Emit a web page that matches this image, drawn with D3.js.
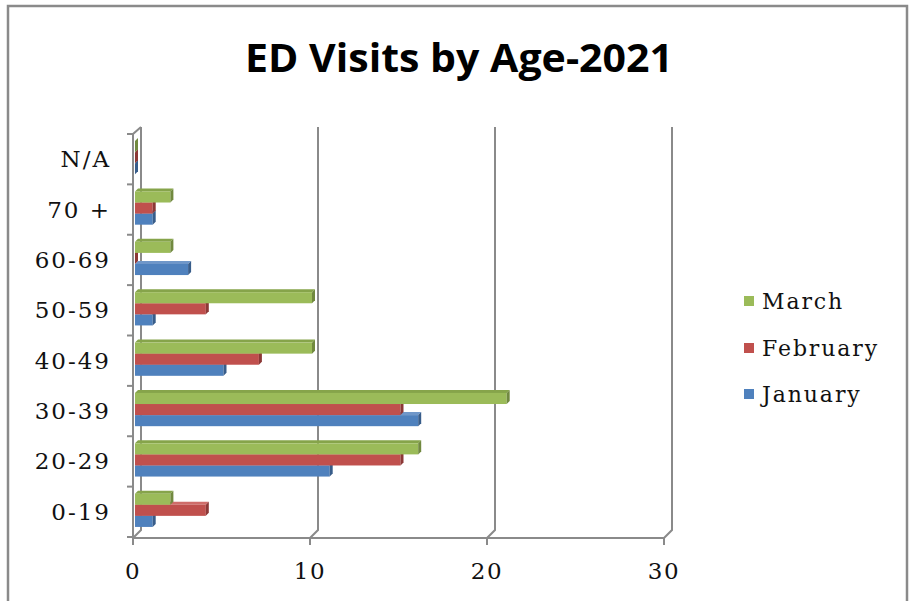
<!DOCTYPE html>
<html>
<head>
<meta charset="utf-8">
<script src="https://cdn.jsdelivr.net/npm/d3@7"></script>
<style>
  body { margin: 0; background: #fff; }
  svg { display: block; }
</style>
</head>
<body>
<svg id="chart" width="913" height="601"></svg>
<script>
// ED visits by age group, Jan-Mar 2021 (bottom to top as drawn)
var categories = ['0-19', '20-29', '30-39', '40-49', '50-59', '60-69', '70 +', 'N/A'];
var january  = [1, 11, 16, 5, 1, 3, 1, 0];
var february = [4, 15, 15, 7, 4, 0, 1, 0];
var march    = [2, 16, 21, 10, 10, 2, 2, 0];
var xTicks = [0, 10, 20, 30];

var series = [
  { name: 'January',  values: january,  fill: '#4f81bd', side: '#385d8a', top: '#6f97c9' },
  { name: 'February', values: february, fill: '#c0504d', side: '#8c3836', top: '#cf6d6a' },
  { name: 'March',    values: march,    fill: '#9bbb59', side: '#71893f', top: '#86a44a' }
];

var svg = d3.select('#chart');
var lineColor = '#8a8a8a';

// outer frame
svg.append('rect')
  .attr('x', 8).attr('y', 6)
  .attr('width', 899).attr('height', 620)
  .attr('fill', 'none')
  .attr('stroke', lineColor)
  .attr('stroke-width', 2.5);

// title
svg.append('text')
  .attr('x', 459).attr('y', 72)
  .attr('text-anchor', 'middle')
  .attr('font-family', 'Open Sans, Noto Sans, sans-serif')
  .attr('font-weight', 'bold')
  .attr('font-size', 40)
  .attr('textLength', 428)
  .attr('lengthAdjust', 'spacingAndGlyphs')
  .text('ED Visits by Age-2021');

// scales
var x = d3.scaleLinear().domain([0, 30]).range([133, 664]);
var y = d3.scaleBand().domain(categories.slice().reverse()).range([134, 537]);
var wall = { dx: 8, dy: -8 };       // back wall offset
var depth = { dx: 3, dy: -3 };      // bar depth
var yBottom = 538;
var yTop = 135;

var grid = svg.append('g')
  .attr('fill', 'none')
  .attr('stroke', lineColor)
  .attr('stroke-width', 2);

// back wall gridlines with floor diagonals
xTicks.forEach(function(v) {
  var xb = x(v) + wall.dx;
  grid.append('path')
    .attr('d', 'M' + xb + ',' + (yTop + wall.dy) +
               'V' + (yBottom + wall.dy) +
               'L' + x(v) + ',' + yBottom);
});

// left front axis + top diagonal
grid.append('path')
  .attr('d', 'M' + x(0) + ',' + yBottom + 'V' + (yTop - 1) +
             'L' + (x(0) + wall.dx) + ',' + (yTop + wall.dy));

// bottom axis line
grid.append('line')
  .attr('x1', x(0)).attr('x2', x(30))
  .attr('y1', yBottom).attr('y2', yBottom);

// bottom ticks
xTicks.forEach(function(v) {
  grid.append('line')
    .attr('x1', x(v)).attr('x2', x(v))
    .attr('y1', yBottom).attr('y2', yBottom + 7);
});

// left ticks at band edges
var edges = y.domain().map(function(c) { return y(c); }).concat([y.range()[1]]);
edges.forEach(function(e) {
  grid.append('line')
    .attr('x1', x(0) - 6).attr('x2', x(0))
    .attr('y1', e).attr('y2', e);
});

// x tick labels
svg.append('g')
  .selectAll('text')
  .data(xTicks)
  .enter().append('text')
  .attr('x', function(d) { return x(d); })
  .attr('y', 579)
  .attr('text-anchor', 'middle')
  .attr('font-family', 'DejaVu Serif, serif')
  .attr('font-size', 23)
  .attr('letter-spacing', 1.5)
  .attr('fill', '#111')
  .text(function(d) { return d; });

// category labels
svg.append('g')
  .selectAll('text')
  .data(categories)
  .enter().append('text')
  .attr('x', 111)
  .attr('y', function(d) { return y(d) + y.bandwidth() / 2 + 8; })
  .attr('text-anchor', 'end')
  .attr('font-family', 'DejaVu Serif, serif')
  .attr('font-size', 23)
  .attr('letter-spacing', 2)
  .attr('fill', '#111')
  .text(function(d) { return d; });

// bars: inner band, March on top, January at bottom
var inner = d3.scaleBand()
  .domain(['March', 'February', 'January'])
  .range([0.16, 0.82]);

var barX = function(v) { return x(v) + 2; };
var bars = svg.append('g');

// draw bottom bar first so upper bars hide its top face
series.forEach(function(s) {
  categories.forEach(function(cat, i) {
    var v = s.values[i];
    var bw = y.bandwidth();
    var y0 = y(cat) + inner(s.name) * bw - 1;
    var h = inner.bandwidth() * bw;
    var x0 = barX(0), x1 = barX(v);
    var g = bars.append('g');
    // top face
    g.append('path')
      .attr('d', 'M' + x0 + ',' + y0 +
                 'L' + (x0 + depth.dx) + ',' + (y0 + depth.dy) +
                 'L' + (x1 + depth.dx) + ',' + (y0 + depth.dy) +
                 'L' + x1 + ',' + y0 + 'Z')
      .attr('fill', s.top);
    // front face
    g.append('rect')
      .attr('x', x0).attr('y', y0)
      .attr('width', x1 - x0).attr('height', h)
      .attr('fill', s.fill);
    // end face
    g.append('path')
      .attr('d', 'M' + x1 + ',' + y0 +
                 'L' + (x1 + depth.dx) + ',' + (y0 + depth.dy) +
                 'L' + (x1 + depth.dx) + ',' + (y0 + h + depth.dy) +
                 'L' + x1 + ',' + (y0 + h) + 'Z')
      .attr('fill', s.side);
  });
});

// legend
var legendItems = ['March', 'February', 'January'];
var legendY = [301, 348, 394];
var legend = svg.append('g');
legendItems.forEach(function(name, i) {
  var s = series.filter(function(d) { return d.name === name; })[0];
  legend.append('rect')
    .attr('x', 744).attr('y', legendY[i] - 5)
    .attr('width', 10).attr('height', 10)
    .attr('fill', s.fill);
  legend.append('text')
    .attr('x', 762).attr('y', legendY[i] + 8)
    .attr('font-family', 'DejaVu Serif, serif')
    .attr('font-size', 22)
    .attr('letter-spacing', 1.9)
    .attr('fill', '#111')
    .text(name);
});
</script>
</body>
</html>
